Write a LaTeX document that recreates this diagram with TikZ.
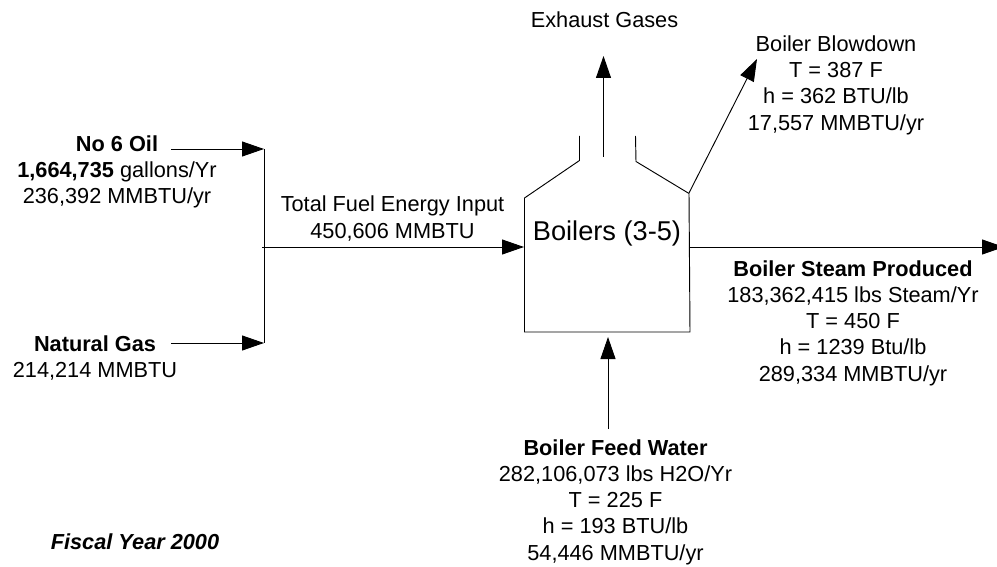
\documentclass[tikz,border=0pt]{standalone}
\usepackage{fontspec}
\setmainfont{Liberation Sans}
\usetikzlibrary{arrows.meta}

\tikzset{
  flow/.style={-{Triangle[length=16.5pt, width=11.25pt]}, line width=0.7pt, black},
  plain/.style={line width=0.7pt, black},
  lbl/.style={font=\fontsize{16.3pt}{19.7pt}\selectfont, align=center, inner sep=0pt}
}

\begin{document}
\begin{tikzpicture}[x=0.75pt, y=-0.75pt]
    \useasboundingbox (0,0) rectangle (997,567);
    % Caldeira
    \draw[plain] (579.5,136) -- (579.5,160.5) -- (524.5,198) -- (524.5,332)
      -- (690,332) -- (689,193.5) -- (636,161.5) -- (635.5,136);
    \node[lbl, font=\fontsize{20.4pt}{24pt}\selectfont] (boilers) at (607,233) {Boilers (3-5)};
    % Pontos de ligacao
    \coordinate (oilEnd) at (171,149);
    \coordinate (gasEnd) at (171,343);
    \coordinate (busTop) at (264,149);
    \coordinate (busBot) at (264,343);
    \coordinate (busMid) at (262,247);
    \coordinate (boilerIn) at (524,247);
    \coordinate (stackBase) at (603.5,157);
    \coordinate (stackTip) at (603.5,56);
    \coordinate (blowBase) at (689,193);
    \coordinate (blowTip) at (757,59);
    \coordinate (steamBase) at (690,247);
    \coordinate (steamTip) at (1004,247);
    \coordinate (feedBase) at (608,429);
    \coordinate (feedTip) at (608,337);
    % Entradas de combustivel
    \draw[flow] (oilEnd) -- (busTop);
    \draw[flow] (gasEnd) -- (busBot);
    \draw[plain] (busTop) -- (busBot);
    \draw[flow] (busMid) -- (boilerIn);
    % Saidas e agua
    \draw[flow] (stackBase) -- (stackTip);
    \draw[flow] (blowBase) -- (blowTip);
    \draw[flow] (steamBase) -- (steamTip);
    \draw[flow] (feedBase) -- (feedTip);
    % Textos
    \node[lbl] (exhaust) at (604.5,20) {Exhaust Gases};
    \node[lbl] (blowdown) at (836,85) {Boiler Blowdown\\T = 387 F\\h = 362 BTU/lb\\17,557 MMBTU/yr};
    \node[lbl] (oil) at (117,172) {\textbf{No 6 Oil}\\\textbf{1,664,735} gallons/Yr\\236,392 MMBTU/yr};
    \node[lbl] (gas) at (95,358) {\textbf{Natural Gas}\\214,214 MMBTU};
    \node[lbl] (total) at (392.5,218.5) {Total Fuel Energy Input\\450,606 MMBTU};
    \node[lbl] (steam) at (853,323) {\textbf{Boiler Steam Produced}\\183,362,415 lbs Steam/Yr\\T = 450 F\\h = 1239 Btu/lb\\289,334 MMBTU/yr};
    \node[lbl] (feed) at (615.5,502) {\textbf{Boiler Feed Water}\\282,106,073 lbs H2O/Yr\\T = 225 F\\h = 193 BTU/lb\\54,446 MMBTU/yr};
    \node[lbl, font=\fontsize{16.3pt}{19.7pt}\selectfont\bfseries\itshape] (year) at (135,542) {Fiscal Year 2000};
\end{tikzpicture}
\end{document}
